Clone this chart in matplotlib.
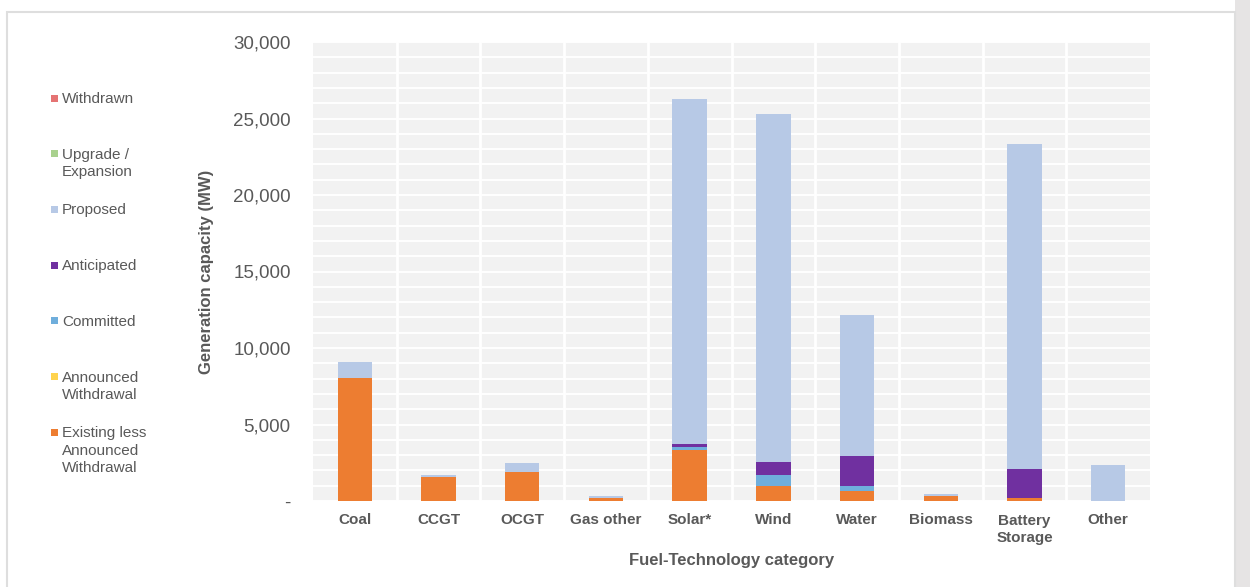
import matplotlib
matplotlib.use('Agg')

import numpy as np
import matplotlib.pyplot as plt
from matplotlib.patches import Rectangle
from matplotlib.ticker import FuncFormatter, MultipleLocator

plt.rcParams['font.family'] = ['Liberation Sans', 'DejaVu Sans']

# Fuel-technology categories and capacity by status (MW)
categories = ["Coal", "CCGT", "OCGT", "Gas other", "Solar*", "Wind", "Water",
              "Biomass", "Battery\nStorage", "Other"]
existing = [8050, 1550, 1900, 200, 3350, 980, 680, 300, 220, 0]
announced_withdrawal = [0, 0, 0, 0, 0, 0, 0, 0, 0, 0]
committed = [0, 0, 0, 0, 200, 740, 280, 0, 0, 0]
anticipated = [0, 0, 0, 0, 150, 830, 1960, 0, 1870, 0]
proposed = [1050, 150, 570, 100, 22600, 22750, 9230, 180, 21260, 2370]
upgrade = [0, 0, 0, 0, 0, 0, 0, 0, 0, 0]
withdrawn = [0, 0, 0, 0, 0, 0, 0, 0, 0, 0]

series = [
    ("Existing less\nAnnounced\nWithdrawal", existing, "#ED7D31"),
    ("Announced\nWithdrawal", announced_withdrawal, "#FFD34D"),
    ("Committed", committed, "#6FAEDC"),
    ("Anticipated", anticipated, "#7030A0"),
    ("Proposed", proposed, "#B7C9E6"),
    ("Upgrade /\nExpansion", upgrade, "#A9D18E"),
    ("Withdrawn", withdrawn, "#E57373"),
]

text_color = "#595959"

fig = plt.figure(figsize=(12.5, 5.87), dpi=100)
fig.patch.set_facecolor("white")

# page frame and grey strip on the right
fig.add_artist(Rectangle((1235 / 1250, 0), 15 / 1250, 1, transform=fig.transFigure,
                         facecolor="#E6E4E4", edgecolor="none", zorder=0))
fig.add_artist(Rectangle((7 / 1250, -0.01), 1228 / 1250, (587 - 12) / 587 + 0.01,
                         transform=fig.transFigure, facecolor="none",
                         edgecolor="#DEDEDE", linewidth=1.5, zorder=0))

ax = fig.add_axes([313 / 1250, (587 - 501) / 587, (1150 - 313) / 1250, 459 / 587])
ax.set_facecolor("#F2F2F2")

x = np.arange(len(categories))
bottom = np.zeros(len(categories))
for label, values, color in series:
    vals = np.array(values, dtype=float)
    ax.bar(x, vals, width=0.41, bottom=bottom, color=color, zorder=3)
    bottom += vals

ax.set_xlim(-0.5, len(categories) - 0.5)
ax.set_ylim(0, 30000)

# white grid: every 1000 MW horizontally, category separators vertically
ax.yaxis.set_major_locator(MultipleLocator(5000))
ax.yaxis.set_minor_locator(MultipleLocator(1000))
ax.grid(axis="y", which="both", color="white", linewidth=1.4, zorder=1)
for b in np.arange(0.5, len(categories) - 0.5, 1):
    ax.axvline(b, color="white", linewidth=2, zorder=1)

for spine in ax.spines.values():
    spine.set_visible(False)

ax.yaxis.set_major_formatter(FuncFormatter(lambda v, p: "-" if v == 0 else f"{v:,.0f}"))
ax.tick_params(axis="y", which="both", length=0, pad=16, labelsize=13.5, labelcolor=text_color)
ax.tick_params(axis="x", length=0, pad=9, labelsize=11, labelcolor=text_color)
ax.set_xticks(x)
ax.set_xticklabels(categories, fontweight="bold", linespacing=1.3)

ax.set_ylabel("Generation capacity (MW)", fontsize=12, fontweight="bold",
              color=text_color, labelpad=14)
ax.set_xlabel("Fuel-Technology category", fontsize=12, fontweight="bold",
              color=text_color, labelpad=6)

# legend column on the left, top entry first
legend_top = 98
legend_step = 55.7
for i, (label, values, color) in enumerate(reversed(series)):
    y_px = legend_top + i * legend_step
    fig.add_artist(Rectangle((51 / 1250, 1 - (y_px + 3.5) / 587), 7 / 1250, 7 / 587,
                             transform=fig.transFigure, facecolor=color,
                             edgecolor="none"))
    fig.text(62 / 1250, 1 - (y_px - 6) / 587, label, fontsize=11, color=text_color,
             va="top", ha="left", linespacing=1.3)

fig.savefig("out.png", dpi=100)
